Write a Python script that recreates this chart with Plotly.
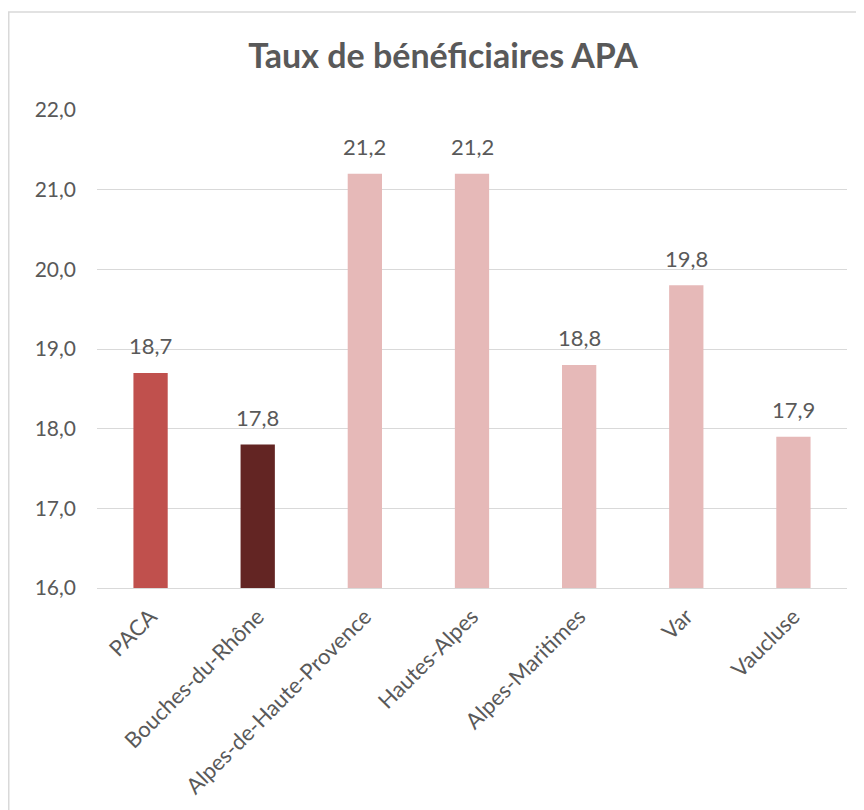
import plotly.graph_objects as go

categories = ["PACA", "Bouches-du-Rhône", "Alpes-de-Haute-Provence", "Hautes-Alpes",
              "Alpes-Maritimes", "Var", "Vaucluse"]
values = [18.7, 17.8, 21.2, 21.2, 18.8, 19.8, 17.9]
colors = ["#C0504D", "#632523", "#E6B9B8", "#E6B9B8", "#E6B9B8", "#E6B9B8", "#E6B9B8"]
y_ticks = [16, 17, 18, 19, 20, 21, 22]

FONT = "Lato"
GRAY = "#595959"

fig = go.Figure(go.Bar(
    x=categories, y=values, base=0,
    marker=dict(color=colors, line=dict(width=0)),
    hoverinfo="x+y",
))

for c, v in zip(categories, values):
    fig.add_annotation(x=c, y=v, text=f"{v:.1f}".replace(".", ","),
                       showarrow=False, yanchor="middle", yshift=27,
                       font=dict(family=FONT, size=22, color=GRAY))

# page has an 8px body margin; figure coordinates are page minus 8
W, H = 856, 802
L, R, T, B = 89, 17, 102, 222
pw, ph = W - L - R, H - T - B

def px_x(p):
    return (p - L) / pw

def px_y(p):
    return (H - B - p) / ph

fig.update_layout(
    width=W, height=H,
    margin=dict(l=L, r=R, t=T, b=B, autoexpand=False),
    paper_bgcolor="white", plot_bgcolor="white",
    separators=", ",
    bargap=0.68,
    showlegend=False,
    title=dict(text="<b>Taux de bénéficiaires APA</b>", x=px_x(435), xref="paper",
               xanchor="center", y=1 - 48 / H, yanchor="middle",
               font=dict(family=FONT, size=34, color=GRAY)),
    xaxis=dict(tickangle=-45, tickfont=dict(family=FONT, size=22, color=GRAY),
               showline=True, linecolor="#D9D9D9", linewidth=1, ticks="",
               automargin=False, ticklabelstandoff=6),
    yaxis=dict(range=[16, 22], tickvals=y_ticks, tickformat=".1f",
               tickfont=dict(family=FONT, size=21, color=GRAY),
               showgrid=True, gridcolor="#D9D9D9", gridwidth=1,
               zeroline=False, showline=False, ticks="", automargin=False,
               ticklabelstandoff=20),
    shapes=[dict(type="rect", xref="paper", yref="paper",
                 x0=px_x(0.75), x1=px_x(W + 20), y0=px_y(H + 20), y1=px_y(4),
                 line=dict(color="#D9D9D9", width=1.5), fillcolor="rgba(0,0,0,0)",
                 layer="below")],
)

fig.write_html("out.html")
